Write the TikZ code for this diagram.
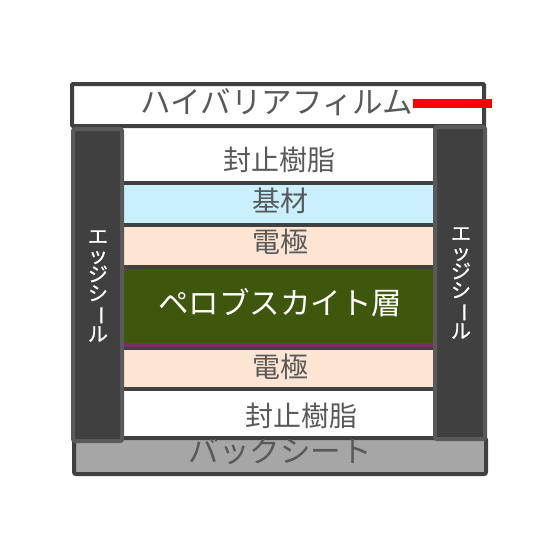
\documentclass[tikz,border=0pt]{standalone}
\usepackage{fontspec}
\newfontfamily\jp{Noto Sans CJK JP}
\newfontfamily\jpheavy[FakeBold=0.8]{Noto Sans CJK JP}
\definecolor{border}{HTML}{404040}
\definecolor{sealborder}{HTML}{595959}
\definecolor{labelgray}{HTML}{595959}
\definecolor{baseblue}{HTML}{C9F0FC}
\definecolor{peach}{HTML}{FDE5D3}
\definecolor{perov}{HTML}{3F570C}
\definecolor{purp}{HTML}{7E2B69}
\definecolor{backgray}{HTML}{A6A6A6}
\tikzset{
  lbl/.style={font=\jp\fontsize{28}{30}\selectfont, text=labelgray, inner sep=0pt},
  kana/.style={lbl, font=\jp\fontsize{30.5}{32}\selectfont},
  seallbl/.style={font=\jpheavy\fontsize{20}{19}\selectfont, text=white, inner sep=0pt, align=center},
  sep/.style={draw=border, line width=4pt},
}
\begin{document}
\begin{tikzpicture}[x=1pt,y=-1pt]
\useasboundingbox (0,0) rectangle (560,560);
% back sheet
\path[fill=backgray, draw=border, line width=4pt, rounded corners=2pt] (74,438) rectangle (486,474);
\node[kana, text=labelgray] (back) at (280,451) {バックシート};
% layer fills
\fill[white] (122,126) rectangle (435,183);
\fill[baseblue] (122,183) rectangle (435,225);
\fill[peach] (122,225) rectangle (435,267);
\fill[perov] (122,267) rectangle (435,345);
\fill[peach] (122,347) rectangle (435,389);
\fill[white] (122,389) rectangle (435,437);
% separators
\draw[sep] (122,183) -- (435,183);
\draw[sep] (122,225) -- (435,225);
\draw[sep] (122,267) -- (435,267);
\draw[purp, line width=1pt] (122,269.5) -- (435,269.5);
\draw[purp, line width=4pt] (122,345) -- (435,345);
\draw[border, line width=2.5pt] (122,348.25) -- (435,348.25);
\draw[sep] (122,389) -- (435,389);
\draw[border, line width=3pt] (122,437.5) -- (435,437.5);
% layer labels
\node[lbl] (seal1) at (279,160) {封止樹脂};
\node[lbl] (base) at (280,201) {基材};
\node[lbl] (elec1) at (280,242) {電極};
\node[kana, text=white] (pero) at (280,303) {ペロブスカイト層};
\node[lbl] (elec2) at (280,367) {電極};
\node[lbl] (seal2) at (301,416) {封止樹脂};
% barrier film
\path[fill=white, draw=border, line width=4pt, rounded corners=1pt] (72,84) rectangle (484,126);
\node[kana] (film) at (277,102) {ハイバリアフィルム};
\draw[red, line width=9pt] (413,103.5) -- (492,103.5);
% edge seals
\path[fill=border, draw=sealborder, line width=4pt, rounded corners=2pt] (73,129) rectangle (122,441);
\path[fill=border, draw=sealborder, line width=4pt, rounded corners=2pt] (435,127) rectangle (485,439);
\node[seallbl] (edgeL) at (98,286) {エ\\ッ\\ジ\\シ\\\rotatebox[origin=c]{-90}{ー}\\ル};
\node[seallbl] (edgeR) at (461,283) {エ\\ッ\\ジ\\シ\\\rotatebox[origin=c]{-90}{ー}\\ル};
\end{tikzpicture}
\end{document}
